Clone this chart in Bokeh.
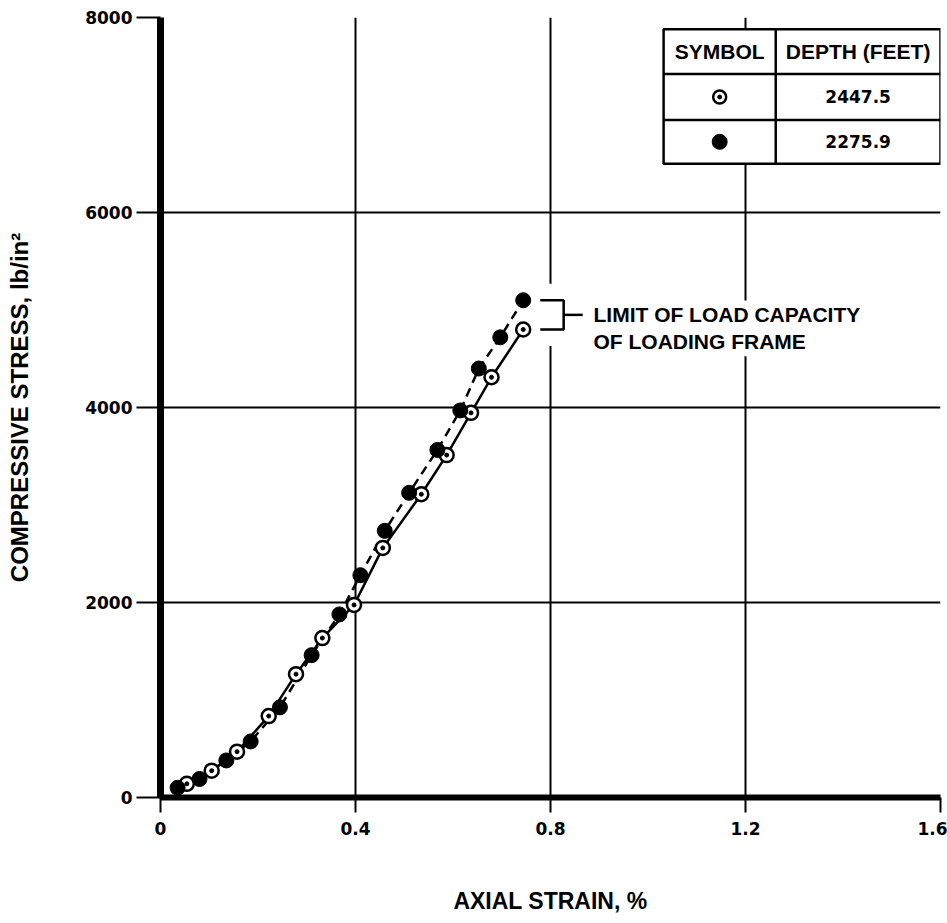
import math
from bokeh.plotting import figure
from bokeh.models import Range1d, FixedTicker, NumeralTickFormatter, Label
from bokeh.embed import file_html
from bokeh.resources import INLINE
from bokeh.core.properties import value

# ---------------- data ----------------
x_ticks = [0, 0.4, 0.8, 1.2, 1.6]
y_ticks = [0, 2000, 4000, 6000, 8000]

# depth 2447.5 ft (open symbol, solid line)
strain_2447 = [0.054, 0.105, 0.157, 0.222, 0.278, 0.332, 0.397, 0.456, 0.535, 0.587, 0.637, 0.679, 0.744]
stress_2447 = [140, 275, 470, 835, 1265, 1635, 1975, 2560, 3110, 3512, 3945, 4310, 4800]

# depth 2275.9 ft (filled symbol, dashed line)
strain_2275 = [0.035, 0.08, 0.135, 0.185, 0.245, 0.31, 0.367, 0.41, 0.46, 0.51, 0.568, 0.615, 0.653, 0.697, 0.744]
stress_2275 = [100, 190, 380, 575, 925, 1460, 1878, 2280, 2735, 3125, 3565, 3970, 4400, 4720, 5100]

table_headers = ["SYMBOL", "DEPTH (FEET)"]
table_depths = ["2447.5", "2275.9"]
note_lines = ["LIMIT OF LOAD CAPACITY", "OF LOADING FRAME"]

x_title = "AXIAL STRAIN, %"
y_title = "COMPRESSIVE STRESS, lb/in\u00b2"

# ---------------- layout constants ----------------
WORD_FONT = "Liberation Sans"
NUM_FONT = "DejaVu Sans"
tbl_x = [1.032, 1.262, 1.6]          # left, divider, right
tbl_y = [7880, 7420, 6950, 6500]     # top, header bottom, row1 bottom, bottom

p = figure(width=947, height=923,
           x_range=Range1d(0, 1.6), y_range=Range1d(0, 8000),
           output_backend="svg", toolbar_location=None,
           min_border_left=160, min_border_right=7,
           min_border_top=17, min_border_bottom=126)
p.outline_line_color = None
p.background_fill_color = "white"
p.border_fill_color = "white"

# axes
p.xaxis.ticker = FixedTicker(ticks=x_ticks)
p.xaxis.formatter = NumeralTickFormatter(format="0.[0]")
p.yaxis.ticker = FixedTicker(ticks=y_ticks)
for ax in (p.xaxis[0], p.yaxis[0]):
    ax.axis_line_color = "black"
    ax.major_tick_line_color = "black"
    ax.major_tick_line_width = 2
    ax.major_tick_in = 0
    ax.minor_tick_out = 0
    ax.minor_tick_in = 0
    ax.major_label_text_font = NUM_FONT
    ax.major_label_text_font_style = "bold"
    ax.major_label_text_font_size = "17px"
    ax.major_label_text_color = "black"
    ax.axis_label_text_font = WORD_FONT
    ax.axis_label_text_font_style = "bold"
    ax.axis_label_text_color = "black"
p.xaxis.axis_line_width = 6
p.yaxis.axis_line_width = 7
p.xaxis.major_tick_out = 15
p.yaxis.major_tick_out = 24
p.xaxis.major_label_standoff = 9
p.yaxis.major_label_standoff = 4

p.xaxis.axis_label = x_title
p.xaxis.axis_label_text_font_size = "23px"
p.xaxis.axis_label_standoff = 50
p.yaxis.axis_label = y_title
p.yaxis.axis_label_text_font_size = "24px"
p.yaxis.axis_label_standoff = 49

# grid
p.xgrid.ticker = FixedTicker(ticks=x_ticks)
p.ygrid.ticker = FixedTicker(ticks=y_ticks)
for g in (p.xgrid[0], p.ygrid[0]):
    g.grid_line_color = "black"
    g.grid_line_width = 2
    g.grid_line_alpha = 1.0

# ---------------- bracket annotation ----------------
br_x0 = strain_2275[-1] + 0.035
br_x1 = strain_2275[-1] + 0.083
br_x2 = strain_2275[-1] + 0.122
br_top = stress_2275[-1]
br_bot = stress_2447[-1]
br_mid = (br_top + br_bot) / 2
p.quad(left=br_x0, right=br_x1, top=br_top + 170, bottom=br_bot - 170,
       fill_color="white", line_color=None)
p.line([br_x0, br_x1, br_x1, br_x0], [br_top, br_top, br_bot, br_bot],
       line_color="black", line_width=2.5)
p.segment(x0=[br_x1], y0=[br_mid], x1=[br_x2], y1=[br_mid],
          line_color="black", line_width=2.5)
for i, t in enumerate(note_lines):
    p.add_layout(Label(x=br_x2 + 0.016, y=br_mid - i * 275, text=t,
                       text_align="left", text_baseline="middle",
                       text_font=WORD_FONT, text_font_style="bold",
                       text_font_size="21px", text_color="black",
                       background_fill_color="white", padding=3))

# ---------------- curves ----------------
p.line(strain_2447, stress_2447, line_color="black", line_width=2.5)
p.line(strain_2275, stress_2275, line_color="black", line_width=2.5, line_dash="9 6")
p.scatter(strain_2447, stress_2447, marker="circle", size=14,
          fill_color="white", line_color="black", line_width=2.5)
p.scatter(strain_2447, stress_2447, marker="circle", size=4,
          fill_color="black", line_color="black")
p.scatter(strain_2275, stress_2275, marker="circle", size=15,
          fill_color="black", line_color="black")

# ---------------- symbol table ----------------
p.quad(left=tbl_x[0], right=tbl_x[2], top=tbl_y[0], bottom=tbl_y[3],
       fill_color="white", line_color="black", line_width=2.5)
p.segment(x0=[tbl_x[0], tbl_x[0], tbl_x[1]], y0=[tbl_y[1], tbl_y[2], tbl_y[0]],
          x1=[tbl_x[2], tbl_x[2], tbl_x[1]], y1=[tbl_y[1], tbl_y[2], tbl_y[3]],
          line_color="black", line_width=2.5)
col_c = [(tbl_x[0] + tbl_x[1]) / 2, (tbl_x[1] + tbl_x[2]) / 2]
row_c = [(tbl_y[i] + tbl_y[i + 1]) / 2 for i in range(3)]
p.text(x=col_c, y=[row_c[0], row_c[0]], text=table_headers,
       text_align="center", text_baseline="middle",
       text_font=value(WORD_FONT), text_font_style="bold",
       text_font_size="21px", text_color="black")
p.text(x=[col_c[1], col_c[1]], y=[row_c[1], row_c[2]], text=table_depths,
       text_align="center", text_baseline="middle",
       text_font=value(NUM_FONT), text_font_style="bold",
       text_font_size="17px", text_color="black")
p.scatter([col_c[0]], [row_c[1]], marker="circle", size=13,
          fill_color="white", line_color="black", line_width=2.5)
p.scatter([col_c[0]], [row_c[1]], marker="circle", size=4,
          fill_color="black", line_color="black")
p.scatter([col_c[0]], [row_c[2]], marker="circle", size=15,
          fill_color="black", line_color="black")

open("out.html", "w").write(file_html(p, INLINE))
